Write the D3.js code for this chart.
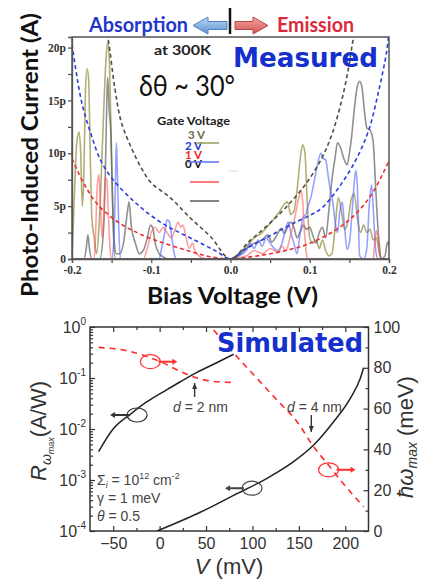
<!DOCTYPE html>
<html><head><meta charset="utf-8">
<script src="https://cdn.jsdelivr.net/npm/d3@7"></script>
<style>body{margin:0;background:#fff}svg{display:block}</style>
</head><body>
<script>
// ---------- TOP PANEL DATA (Bias V in volts, current in pA) ----------
const biasTicks = [-0.2, -0.1, 0.0, 0.1, 0.2];
const currentTicks = [0, 5, 10, 15, 20];
const gateLabels = ["3 V", "2 V", "1 V", "0 V"];

const v3 = [-0.2,-0.197,-0.194,-0.191,-0.189,-0.187,-0.185,-0.183,-0.181,-0.179,-0.177,-0.175,-0.172,-0.169,-0.166,-0.163,-0.16,-0.157,-0.155,-0.153,-0.151,-0.149,-0.147,-0.145,-0.1,-0.05,0,
  0.01,0.02,0.03,0.04,0.048,0.055,0.062,0.068,0.072,0.076,0.08,0.084,0.088,0.091,0.094,0.097,0.1,0.104,0.108,0.112,0.116,0.12,0.124,0.128,0.132,0.136,0.14,0.144,0.148,0.152,0.156,0.16,0.164,0.168,0.172,0.176,0.18,0.184,0.188,0.192,0.2];
const i3 = [0,6,11,12,10,5,8,16,18,17,10,4,2,0.5,3,8,14,19,20.5,19,13,6,1,0,0,0,0,
  0.5,1.2,2,2.5,3.2,3.8,4.5,5.2,5.4,4.2,4.5,6.5,9.5,10.8,10,5,2,1.5,1.8,1,1.8,0.8,0.3,0.5,3,5.8,4.5,2.8,3.5,5.5,6.2,4,2.5,3.2,2.5,2.8,1.8,2,0.5,0,0];

const v2 = [-0.2,-0.15,-0.147,-0.145,-0.144,-0.143,-0.141,-0.139,-0.09,-0.087,-0.083,-0.08,-0.077,-0.074,-0.071,-0.068,0,
  0.01,0.02,0.025,0.03,0.035,0.04,0.045,0.05,0.055,0.06,0.065,0.07,0.073,0.076,0.08,0.084,0.088,0.092,0.095,0.098,0.102,0.106,0.11,0.114,0.117,0.12,0.123,0.126,0.129,0.132,0.135,0.138,0.141,0.144,0.147,0.15,0.154,0.158,0.16,0.163,0.168,0.172,0.175,0.178,0.18,0.183,0.186,0.2];
const i2 = [0,0,2,8,11,9,3,0,0,1,2.5,3.7,3.5,2,0.5,0,0,
  0.3,0.8,1.5,1,1.8,1.2,2,1.5,1,0.8,1.5,3,3.5,2.5,1.5,0.5,2.5,4,4.2,5,6,7.5,9,10,9.5,9.4,8,6.5,5.4,3.5,2.5,4.5,5.4,3,0.9,1.5,5,8.4,7,0.3,0,1,5,7,5,1,0,0];

const v1 = [-0.2,-0.172,-0.17,-0.168,-0.166,-0.164,-0.162,-0.16,-0.158,-0.156,-0.154,-0.152,-0.15,-0.11,-0.105,-0.1,-0.095,-0.09,-0.085,-0.08,-0.075,-0.07,-0.066,-0.063,-0.06,-0.056,-0.052,-0.048,-0.045,-0.04,-0.03,0,
  0.02,0.03,0.04,0.05,0.06,0.065,0.07,0.075,0.08,0.084,0.087,0.089,0.091,0.093,0.095,0.097,0.18,0.182,0.184,0.186,0.188,0.19,0.2];
const i1 = [0,0,3,7,8,5,2,4,7.7,7.5,4,1,0,0,1,2.5,3,2.5,3,2.5,2,2.8,3.5,3,3.2,2,1,1.5,0.8,0.3,0,0,
  0.3,0.8,0.5,1,0.6,1.2,0.8,2,3.5,5,6,6.5,5.5,3,1,0,0,1.5,2.7,2,0.5,0,0];

const v0 = [-0.2,-0.185,-0.182,-0.18,-0.178,-0.175,-0.165,-0.16,-0.158,-0.156,-0.155,-0.153,-0.151,-0.149,-0.147,-0.144,-0.14,-0.135,-0.13,-0.128,-0.125,-0.12,-0.115,-0.11,-0.105,-0.101,-0.098,-0.095,-0.09,-0.085,-0.08,0,
  0.01,0.02,0.03,0.04,0.047,0.052,0.058,0.064,0.068,0.072,0.076,0.08,0.084,0.088,0.092,0.096,0.1,0.104,0.108,0.112,0.116,0.12,0.124,0.128,0.132,0.135,0.139,0.143,0.147,0.15,0.153,0.156,0.159,0.163,0.166,0.169,0.172,0.176,0.18,0.183,0.186,0.188,0.19,0.195,0.198,0.2];
const i0 = [0,0,1,2.3,1,0,0,3,8,15,17.2,14,12,6,2,0.5,0.5,1.5,4.5,5.4,3,1.5,0.5,0.8,2,3.2,2.9,1.5,0.5,0.2,0,0,
  0.3,1,1.5,1.8,2.3,1.6,2.2,2.9,2.4,3,3.5,3,2,2.6,3.2,2.8,3,2.2,1.5,2.5,3,2,4.5,7.5,9.6,11,10.5,9.5,8.9,10,11.7,14,15.9,16.8,16.2,14,12.4,12.2,11.1,7,3,1.2,0,0.3,1.6,1.2];

// fitted (dashed) curves
const fitV3 = [-0.158,-0.1546,-0.146,-0.138,-0.125,-0.1125,-0.1,-0.076,-0.051,-0.025,0,0.0227,0.047,0.0726,0.094,0.115,0.128,0.14,0.149,0.155,0.158];
const fitI3 = [22,20.9,16.2,13,10.5,8.6,7.2,5.8,3.9,2.1,0,1.6,3.2,5.1,7.0,9.5,11.8,14.9,18.1,20.9,22];
const fitV2 = [-0.2,-0.188,-0.176,-0.163,-0.146,-0.121,-0.1,-0.08,-0.059,-0.035,-0.017,0,0.018,0.04,0.06,0.08,0.102,0.115,0.136,0.157,0.174,0.187,0.197,0.2];
const fitI2 = [20.3,14.9,11.8,9.2,7.3,5.4,4.1,3.1,2.3,1.4,0.7,0,0.9,1.8,2.6,3.4,4.2,4.8,6.7,9.2,12.1,15.9,19.6,21.5];
const fitV1 = [-0.2,-0.184,-0.167,-0.142,-0.1125,-0.08,-0.05,-0.025,0,0.025,0.05,0.075,0.094,0.115,0.136,0.157,0.178,0.2];
const fitI1 = [9.5,7.0,5.1,3.5,2.3,1.4,0.7,0.2,0,0.2,0.5,0.9,1.3,2.0,2.9,4.2,6.1,9.3];

// ---------- BOTTOM PANEL DATA ----------
const vTicks = [-50, 0, 50, 100, 150, 200];
const rTicks = [1e-4, 1e-3, 1e-2, 1e-1, 1];
const rExp = ["-4", "-3", "-2", "-1", "0"];
const eTicks = [0, 20, 40, 60, 80, 100];
const respV2 = [-65.7,-49.5,-31.6,-13.6,4.3,22.3,40.3,58.2,79.7];
const respR2 = [3.6e-3,1.03e-2,1.94e-2,3.43e-2,5.4e-2,8.45e-2,0.129,0.186,0.292];
const respV4 = [-2.8,43.8,79.7,115.7,144.3,165.9,187.4,205.4,216.2,219.7];
const respR4 = [1e-4,2.33e-4,5.0e-4,1.08e-3,2.29e-3,4.85e-3,1.39e-2,4.0e-2,9.86e-2,0.159];
const peakV2 = [-65.7,-31.6,-13.6,4.3,22.3,40.3,58.2,79.7];
const peakE2 = [90,88,85.5,82.3,78.2,75,73.3,72.8];
const peakV4 = [58.2,83.4,104.9,126.4,148.0,165.9,180.3,194.6,219.7];
const peakE4 = [98.5,85.4,74.8,64.2,53.6,41.3,33.2,25,11.9];

// ---------- DRAW ----------
const W = 423, H = 579;
const svg = d3.select('body').append('svg').attr('width', W).attr('height', H);
const zip = (a, b) => a.map((d, i) => [d, b[i]]);

// === TOP PANEL ===
const xT = d3.scaleLinear().domain([-0.2, 0.2]).range([72, 389]);
const yT = d3.scaleLinear().domain([0, 21]).range([259, 37]);
svg.append('clipPath').attr('id', 'clipT').append('rect')
  .attr('x', 72).attr('y', 37).attr('width', 317).attr('height', 222);

const gT = svg.append('g').attr('clip-path', 'url(#clipT)');
const lineT = d3.line().x(d => xT(d[0])).y(d => yT(d[1])).curve(d3.curveMonotoneX);
const traces = [
  {v: v3, i: i3, c: '#a3a05e', o: 0.85},
  {v: v0, i: i0, c: '#555555', o: 0.65},
  {v: v2, i: i2, c: '#4f62ff', o: 0.6},
  {v: v1, i: i1, c: '#ff4f4f', o: 0.55}
];
traces.forEach(t => gT.append('path').attr('d', lineT(zip(t.v, t.i)))
  .attr('fill', 'none').attr('stroke', t.c).attr('stroke-opacity', t.o).attr('stroke-width', 1.6));
const fitLine = d3.line().x(d => xT(d[0])).y(d => yT(d[1])).curve(d3.curveCatmullRom);
[
  {v: fitV3, i: fitI3, c: '#4f4f3c'},
  {v: fitV2, i: fitI2, c: '#2a3ee0'},
  {v: fitV1, i: fitI1, c: '#ee2e2e'}
].forEach(f => gT.append('path').attr('d', fitLine(zip(f.v, f.i)))
  .attr('fill', 'none').attr('stroke', f.c).attr('stroke-width', 1.6).attr('stroke-dasharray', '4,3'));

// axes top
const serif = '"Liberation Serif","Times New Roman",serif';
const axLT = d3.axisLeft(yT).tickValues(d3.range(0, 20.1, 2.5))
  .tickFormat(d => d % 5 === 0 ? (d === 0 ? '0' : d + 'p') : '').tickSize(4).tickPadding(2);
const gAL = svg.append('g').attr('transform', 'translate(72,0)').call(axLT);
const axBT = d3.axisBottom(xT).tickValues(d3.range(-4, 4.1, 1).map(k => k * 0.05))
  .tickFormat(d => Math.round(Math.abs(d) * 100) % 10 === 0 ? d3.format('.1f')(d).replace('−', '-') : '')
  .tickSize(4).tickPadding(3);
const gAB = svg.append('g').attr('transform', 'translate(0,259)').call(axBT);
[gAL, gAB].forEach(g => {
  g.selectAll('text').attr('font-family', serif).attr('font-weight', 'bold').attr('font-size', 11.5).attr('fill', '#333');
  g.selectAll('line,path').attr('stroke', '#555').attr('stroke-width', 1.3);
});
svg.append('rect').attr('x', 72).attr('y', 37).attr('width', 317).attr('height', 222)
  .attr('fill', 'none').attr('stroke', '#555').attr('stroke-width', 1.5);

// titles top
const sansB = 'Lato,"Open Sans",sans-serif';
svg.append('text').attr('transform', 'translate(38,155) rotate(-90)').attr('text-anchor', 'middle')
  .attr('font-family', sansB).attr('font-weight', 'bold').attr('font-size', 22).attr('fill', '#111')
  .attr('textLength', 284).attr('lengthAdjust', 'spacingAndGlyphs').text('Photo-Induced Current (A)');
svg.append('text').attr('x', 147).attr('y', 304).attr('font-family', sansB).attr('font-weight', 'bold')
  .attr('font-size', 23).attr('fill', '#111').attr('textLength', 171).attr('lengthAdjust', 'spacingAndGlyphs')
  .text('Bias Voltage (V)');
svg.append('text').attr('x', 89).attr('y', 32).attr('font-family', sansB).attr('font-weight', 'bold')
  .attr('font-size', 20).attr('fill', '#2236cc').attr('textLength', 99).attr('lengthAdjust', 'spacingAndGlyphs')
  .text('Absorption');
svg.append('text').attr('x', 277).attr('y', 32).attr('font-family', sansB).attr('font-weight', 'bold')
  .attr('font-size', 20).attr('fill', '#dd2a3a').attr('textLength', 77).attr('lengthAdjust', 'spacingAndGlyphs')
  .text('Emission');
// arrows
const defs = svg.append('defs');
const gb = defs.append('linearGradient').attr('id', 'gb').attr('x1', 0).attr('y1', 0).attr('x2', 0).attr('y2', 1);
gb.append('stop').attr('offset', 0).attr('stop-color', '#b8d8f5');
gb.append('stop').attr('offset', 1).attr('stop-color', '#5d93d2');
const gr = defs.append('linearGradient').attr('id', 'gr').attr('x1', 0).attr('y1', 0).attr('x2', 0).attr('y2', 1);
gr.append('stop').attr('offset', 0).attr('stop-color', '#f3a4a4');
gr.append('stop').attr('offset', 1).attr('stop-color', '#d45454');
svg.append('path').attr('d', 'M193,25.5 L208,17 L208,21.5 L227,21.5 L227,29.5 L208,29.5 L208,34 Z')
  .attr('fill', 'url(#gb)').attr('stroke', '#4f7fbf').attr('stroke-width', 1);
svg.append('path').attr('d', 'M268,25.5 L253,17 L253,21.5 L235,21.5 L235,29.5 L253,29.5 L253,34 Z')
  .attr('fill', 'url(#gr)').attr('stroke', '#b84848').attr('stroke-width', 1);
svg.append('line').attr('x1', 230).attr('x2', 230).attr('y1', 8).attr('y2', 34).attr('stroke', '#111').attr('stroke-width', 2.5);

svg.append('text').attr('x', 154).attr('y', 55).attr('font-family', sansB).attr('font-weight', 'bold')
  .attr('font-size', 14).attr('fill', '#222').attr('textLength', 57).attr('lengthAdjust', 'spacingAndGlyphs').text('at 300K');
svg.append('text').attr('x', 233).attr('y', 67).attr('font-family', '"DejaVu Sans",Verdana,sans-serif').attr('font-weight', 'bold')
  .attr('font-size', 27).attr('fill', '#1530cc').attr('textLength', 145).attr('lengthAdjust', 'spacingAndGlyphs').text('Measured');
svg.append('text').attr('x', 139).attr('y', 96).attr('font-family', sansB)
  .attr('font-size', 29).attr('fill', '#111').attr('textLength', 96).attr('lengthAdjust', 'spacingAndGlyphs').text('δθ ~ 30°');

// legend
svg.append('text').attr('x', 157).attr('y', 125).attr('font-family', sansB).attr('font-weight', 'bold')
  .attr('font-size', 12).attr('fill', '#222').attr('textLength', 73).attr('lengthAdjust', 'spacingAndGlyphs').text('Gate Voltage');
const legCol = ['#6b6a45', '#2236dd', '#ee2a2a', '#111'];
const legX = [188, 185, 185, 185];
const legY = [138.5, 149.5, 159, 167.5];
gateLabels.forEach((t, k) => svg.append('text').attr('x', legX[k]).attr('y', legY[k])
  .attr('font-family', sansB).attr('font-weight', 'bold').attr('font-size', 11.5).attr('fill', legCol[k]).text(t));
const legLineCol = ['#a3a05e', '#6677ff', '#ff5a5a', '#666'];
const legLX = [196, 188, 190, 190];
const legLY = [143, 162, 182, 201];
legLineCol.forEach((c, k) => svg.append('line').attr('x1', legLX[k]).attr('x2', 219).attr('y1', legLY[k]).attr('y2', legLY[k])
  .attr('stroke', c).attr('stroke-width', 1.6));
svg.append('line').attr('x1', 228).attr('x2', 238).attr('y1', 171).attr('y2', 171).attr('stroke', '#ddd').attr('stroke-width', 1);

// === BOTTOM PANEL ===
const xB = d3.scaleLinear().domain([-75, 225]).range([90, 368.5]);
const yB = d3.scaleLog().domain([1e-4, 1]).range([531, 327]);
const yR = d3.scaleLinear().domain([0, 100]).range([531, 327]);
const arial = '"Liberation Sans",Arial,sans-serif';
const PL = 90, PR = 368.5, PT = 327, PB = 531;
svg.append('clipPath').attr('id', 'clipB').append('rect')
  .attr('x', PL).attr('y', PT).attr('width', PR - PL).attr('height', PB - PT);

function styleAx(g) {
  g.selectAll('path').remove();
  g.selectAll('line').attr('stroke', '#333').attr('stroke-width', 1.2);
  g.selectAll('text').attr('font-family', arial).attr('font-size', 16).attr('fill', '#333');
}
const minorV = [-25, 25, 75, 125, 175];
// bottom x
styleAx(svg.append('g').attr('transform', `translate(0,${PB})`)
  .call(d3.axisBottom(xB).tickValues(vTicks).tickSizeInner(-5).tickSizeOuter(0).tickPadding(7)));
styleAx(svg.append('g').attr('transform', `translate(0,${PB})`)
  .call(d3.axisBottom(xB).tickValues(minorV).tickFormat('').tickSizeInner(-3).tickSizeOuter(0)));
styleAx(svg.append('g').attr('transform', `translate(0,${PT})`)
  .call(d3.axisTop(xB).tickValues(vTicks).tickFormat('').tickSizeInner(-5).tickSizeOuter(0)));
styleAx(svg.append('g').attr('transform', `translate(0,${PT})`)
  .call(d3.axisTop(xB).tickValues(minorV).tickFormat('').tickSizeInner(-3).tickSizeOuter(0)));
// left log
styleAx(svg.append('g').attr('transform', `translate(${PL},0)`)
  .call(d3.axisLeft(yB).tickValues(rTicks).tickFormat('').tickSizeInner(-5).tickSizeOuter(0)));
const minors = [];
[1e-4, 1e-3, 1e-2, 1e-1].forEach(b => { for (let m = 2; m <= 9; m++) minors.push(b * m); });
styleAx(svg.append('g').attr('transform', `translate(${PL},0)`)
  .call(d3.axisLeft(yB).tickValues(minors).tickFormat('').tickSizeInner(-3).tickSizeOuter(0)));
rTicks.forEach((t, k) => {
  const tx = svg.append('text').attr('x', 86).attr('y', yB(t) + 6).attr('text-anchor', 'end')
    .attr('font-family', arial).attr('font-size', 16).attr('fill', '#333');
  tx.append('tspan').text('10');
  tx.append('tspan').attr('font-size', 10).attr('dy', -8).text(rExp[k]);
});
// right linear
styleAx(svg.append('g').attr('transform', `translate(${PR},0)`)
  .call(d3.axisRight(yR).tickValues(eTicks).tickSizeInner(-5).tickSizeOuter(0).tickPadding(5)));
styleAx(svg.append('g').attr('transform', `translate(${PR},0)`)
  .call(d3.axisRight(yR).tickValues([10, 30, 50, 70, 90]).tickFormat('').tickSizeInner(-3).tickSizeOuter(0)));
svg.append('rect').attr('x', PL).attr('y', PT).attr('width', PR - PL).attr('height', PB - PT)
  .attr('fill', 'none').attr('stroke', '#333').attr('stroke-width', 1.5);

// curves
const gB = svg.append('g').attr('clip-path', 'url(#clipB)');
const lineL = d3.line().x(d => xB(d[0])).y(d => yB(d[1])).curve(d3.curveMonotoneX);
const lineR = d3.line().x(d => xB(d[0])).y(d => yR(d[1])).curve(d3.curveMonotoneX);
gB.append('path').attr('d', lineR(zip(peakV2, peakE2))).attr('fill', 'none').attr('stroke', '#ff2a2a')
  .attr('stroke-width', 1.6).attr('stroke-dasharray', '6,5');
gB.append('path').attr('d', lineR(zip(peakV4, peakE4))).attr('fill', 'none').attr('stroke', '#ff2a2a')
  .attr('stroke-width', 1.6).attr('stroke-dasharray', '6,5');
gB.append('path').attr('d', lineL(zip(respV2, respR2))).attr('fill', 'none').attr('stroke', '#222').attr('stroke-width', 1.5);
gB.append('path').attr('d', lineL(zip(respV4, respR4))).attr('fill', 'none').attr('stroke', '#222').attr('stroke-width', 1.5);

// ellipse markers with arrows
function marker(cx, cy, col, dir) {
  svg.append('ellipse').attr('cx', cx).attr('cy', cy).attr('rx', 10).attr('ry', 7)
    .attr('fill', 'none').attr('stroke', col).attr('stroke-width', 1.2);
  const x0 = dir > 0 ? cx + 8 : cx - 8, x1 = x0 + dir * 19;
  svg.append('line').attr('x1', x0).attr('x2', x1 - dir * 3).attr('y1', cy).attr('y2', cy)
    .attr('stroke', col).attr('stroke-width', 2);
  svg.append('path').attr('d', `M${x1},${cy} L${x1 - dir * 5},${cy - 3} L${x1 - dir * 5},${cy + 3} Z`).attr('fill', col);
}
marker(xB(-10), yR(83), '#ff3030', 1);
marker(xB(-24.3), yB(0.0188), '#333', -1);
marker(xB(99.5), yB(6.9e-4), '#444', -1);
marker(xB(182), yR(30), '#ff3030', 1);

// d annotations
function vArrow(x, yTip, yBase) {
  svg.append('line').attr('x1', x).attr('x2', x).attr('y1', yBase).attr('y2', yTip).attr('stroke', '#333').attr('stroke-width', 1.4);
  const s = yTip < yBase ? 1 : -1;
  svg.append('path').attr('d', `M${x},${yTip} L${x - 2.5},${yTip + s * 6} L${x + 2.5},${yTip + s * 6} Z`).attr('fill', '#333');
}
vArrow(xB(37.7), 383, 397);
vArrow(xB(163.4), 432, 415);
function dText(x, t) {
  const tx = svg.append('text').attr('x', x).attr('y', 412).attr('font-family', arial).attr('font-size', 14).attr('fill', '#444');
  tx.append('tspan').attr('font-style', 'italic').text('d');
  tx.append('tspan').text(t);
}
dText(173, ' = 2 nm');
dText(287, ' = 4 nm');

// parameter text
const p1 = svg.append('text').attr('x', 97).attr('y', 485).attr('font-family', arial).attr('font-size', 14).attr('fill', '#444');
p1.append('tspan').text('Σ');
p1.append('tspan').attr('font-size', 9).attr('dy', 3).attr('font-style', 'italic').text('i');
p1.append('tspan').attr('dy', -3).text(' = 10');
p1.append('tspan').attr('font-size', 9).attr('dy', -6).text('12');
p1.append('tspan').attr('dy', 6).text(' cm');
p1.append('tspan').attr('font-size', 9).attr('dy', -6).text('-2');
svg.append('text').attr('x', 97).attr('y', 503).attr('font-family', arial).attr('font-size', 14).attr('fill', '#444').text('γ = 1 meV');
const p3 = svg.append('text').attr('x', 97).attr('y', 521).attr('font-family', arial).attr('font-size', 14).attr('fill', '#444');
p3.append('tspan').attr('font-style', 'italic').text('θ');
p3.append('tspan').text(' = 0.5');

svg.append('text').attr('x', 217).attr('y', 352).attr('font-family', '"DejaVu Sans",Verdana,sans-serif').attr('font-weight', 'bold')
  .attr('font-size', 26).attr('fill', '#1530cc').attr('textLength', 146).attr('lengthAdjust', 'spacingAndGlyphs').text('Simulated');

// axis titles bottom
const xt = svg.append('text').attr('x', 229).attr('y', 574).attr('text-anchor', 'middle')
  .attr('font-family', arial).attr('font-size', 22).attr('fill', '#333');
xt.append('tspan').attr('font-style', 'italic').text('V');
xt.append('tspan').text(' (mV)');
const lt = svg.append('text').attr('transform', 'translate(46,431) rotate(-90)').attr('text-anchor', 'middle')
  .attr('font-family', arial).attr('font-size', 22).attr('fill', '#333');
lt.append('tspan').attr('font-style', 'italic').text('R');
lt.append('tspan').attr('font-style', 'italic').attr('font-size', 14).attr('dy', 5).text('ω');
lt.append('tspan').attr('font-style', 'italic').attr('font-size', 9).attr('dy', 3).text('max');
lt.append('tspan').attr('dy', -8).text('(A/W)');
const rt = svg.append('text').attr('transform', 'translate(413,437) rotate(-90)').attr('text-anchor', 'middle')
  .attr('font-family', arial).attr('font-size', 22).attr('fill', '#333');
rt.append('tspan').attr('font-style', 'italic').text('ħω');
rt.append('tspan').attr('font-style', 'italic').attr('font-size', 14).attr('dy', 4).text('max');
rt.append('tspan').attr('dy', -4).text(' (meV)');
</script>
</body></html>
